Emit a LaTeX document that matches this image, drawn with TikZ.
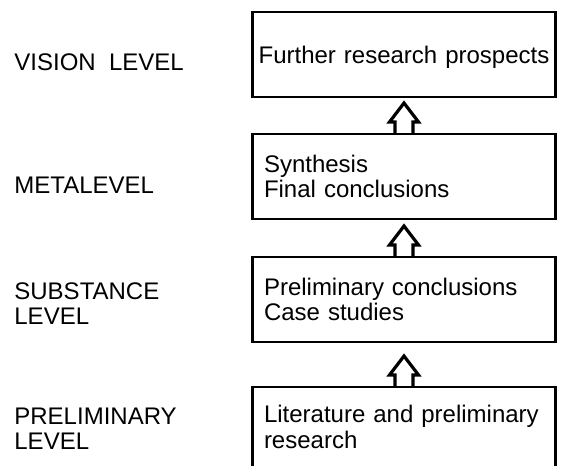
\documentclass[tikz,border=0pt]{standalone}
\usepackage{fontspec}
\setmainfont{Liberation Sans}
\usetikzlibrary{positioning,calc}
\tikzset{
    every picture/.style={line join=miter},
    levelbox/.style={draw=black,line width=1.3pt,
      minimum width=151.5pt,minimum height=42.5pt,
      inner xsep=5.5pt,inner ysep=0pt,outer sep=0pt,
      text width=140pt,align=left,
      font=\fontsize{12}{12.5}\selectfont},
    openbox/.style={levelbox,draw=none,minimum height=40pt},
    levellabel/.style={anchor=north west,inner sep=0pt,align=left,
      font=\fontsize{12}{12.5}\selectfont},
    hollowup/.style={line width=1.6pt,to path={
      ($(\tikztostart.north)+(-9,0)$) -- ++(0,-12) -- ++(-5.5,0)
      -- ++(14.5,-19) -- ++(14.5,19) -- ++(-5.5,0) -- ++(0,12)}}
}
\begin{document}
\begin{tikzpicture}[x=0.5pt,y=-0.5pt]
  \useasboundingbox (0,0) rectangle (561,465);
  % boxes, top to bottom
  \node[levelbox,align=center,inner xsep=2pt,text width=147.5pt,text depth=0pt] (vision) at (404,54.5)
    {Further research prospects};
  \node[levelbox,below=18.5pt of vision] (meta)
    {Synthesis\\Final conclusions};
  \node[levelbox,below=19pt of meta,font=\fontsize{12}{11}\selectfont] (substance)
    {Preliminary conclusions\\Case studies};
  \node[openbox,below=22.5pt of substance,font=\fontsize{12}{13}\selectfont] (prelim)
    {Literature and preliminary\\research};
  \draw[line width=1.3pt] (prelim.south west) -- (prelim.north west)
    -- (prelim.north east) -- (prelim.south east);
  % level names
  \node[levellabel] (visionlab) at (14,53) {VISION\ \ LEVEL};
  \node[levellabel] (metalab) at (14,177) {METALEVEL};
  \node[levellabel] (substancelab) at (14,282) {SUBSTANCE\\LEVEL};
  \node[levellabel] (prelimlab) at (14,408) {PRELIMINARY\\LEVEL};
  % arrows
  \draw[hollowup] (meta) to (vision);
  \draw[hollowup] (substance) to (meta);
  \draw[hollowup] (prelim) to (substance);
\end{tikzpicture}
\end{document}
